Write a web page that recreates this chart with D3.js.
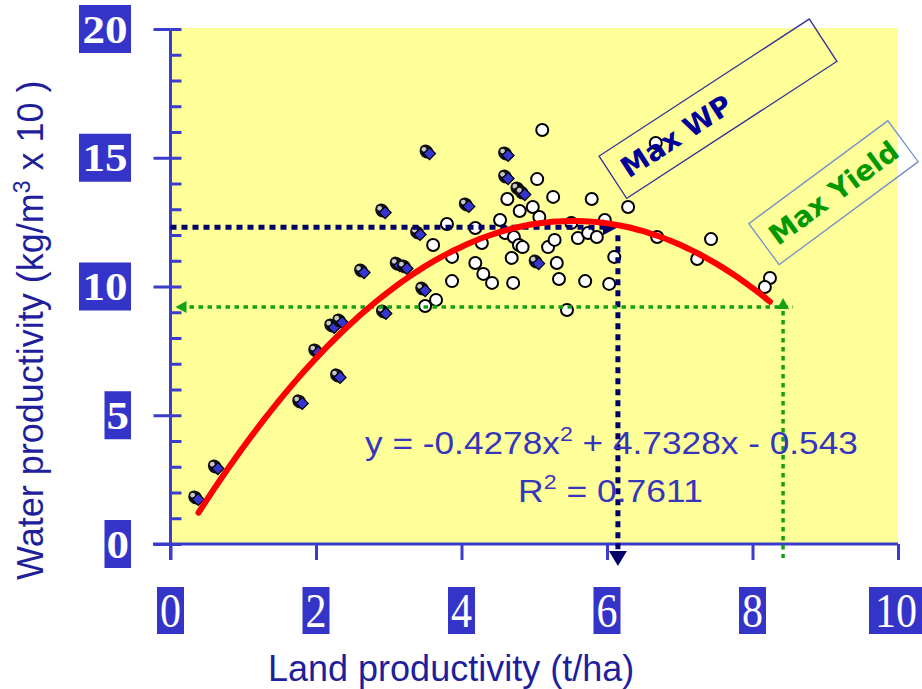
<!DOCTYPE html>
<html><head><meta charset="utf-8">
<script src="https://cdn.jsdelivr.net/npm/d3@7"></script>
<style>html,body{margin:0;padding:0;background:#fff;} svg{display:block;}</style>
</head><body>
<svg id="chart" width="922" height="689"></svg>
<script>
// Land productivity (t/ha) against water productivity (kg/m3 x 10)
const xTicks = [0, 2, 4, 6, 8, 10];
const yTicks = [0, 5, 10, 15, 20];
const yMinorTicks = d3.range(0, 21, 1);

// Fields shown as blue diamonds
const diamondX = [0.36, 0.63, 1.79, 2.01, 2.23, 2.34, 2.31, 2.64, 2.93, 2.94, 3.13, 3.23, 3.41, 3.48, 3.54, 4.08, 4.62, 4.62, 4.79, 4.85, 5.04];
const diamondY = [1.75, 2.95, 5.48, 7.46, 8.43, 8.62, 6.49, 10.56, 12.89, 8.97, 10.83, 10.72, 12.04, 9.86, 15.18, 13.13, 15.11, 14.21, 13.75, 13.59, 10.91];

// Fields shown as open circles
const circleX = [5.11, 6.67, 5.04, 5.26, 4.63, 5.79, 6.29, 4.80, 4.98, 5.07, 4.53, 3.80, 4.19, 5.51, 5.97, 4.60, 4.72, 4.28, 3.61, 4.79, 4.84, 5.19, 5.28, 5.60, 5.74, 5.86, 6.69, 7.43, 3.87, 4.69, 4.19, 5.31, 6.10, 7.24, 4.30, 4.42, 3.87, 4.71, 5.34, 5.70, 6.03, 3.65, 3.50, 5.45, 8.24, 8.17];
const circleY = [16.08, 15.57, 14.17, 13.48, 13.40, 13.40, 13.09, 12.93, 13.09, 12.70, 12.58, 12.43, 12.27, 12.47, 12.58, 12.08, 11.92, 11.69, 11.61, 11.61, 11.53, 11.53, 11.81, 11.88, 12.08, 11.92, 11.92, 11.84, 11.15, 11.11, 10.91, 10.91, 11.15, 11.07, 10.49, 10.14, 10.21, 10.14, 10.29, 10.21, 10.10, 9.48, 9.24, 9.09, 10.33, 9.98];

// Quadratic trend: y = a x^2 + b x + c
const fitCoef = [-0.4278, 4.7328, -0.543];
const fitR2 = 0.7611;
const fitRange = [0.385, 8.24];

// Reference readings (land productivity, water productivity)
const maxWP = [6.15, 12.3];
const maxYield = [8.42, 9.2];

const svg = d3.select("#chart");
const x = d3.scaleLinear().domain([0, 10]).range([170.5, 898]);
const y = d3.scaleLinear().domain([0, 20]).range([544, 29]);

const AXIS = "#3b3bcc";
const LABEL_BOX = "#3434c8";
const TITLE = "#1f1f9c";
const NAVY = "#00006a";
const GREEN = "#16a016";

// plot area
svg.append("rect")
  .attr("x", 172).attr("y", 28)
  .attr("width", x(10) - 172).attr("height", 543 - 28)
  .attr("fill", "#ffff99");

// stretch a text element horizontally to a given width, keeping its left edge
function fitWidth(sel, width) {
  const bb = sel.node().getBBox();
  const s = width / bb.width;
  sel.attr("transform", `translate(${bb.x},0) scale(${s},1) translate(${-bb.x},0)`);
}

// ---- y axis ----
const gy = svg.append("g").attr("transform", `translate(${x(0)},0)`);
gy.call(d3.axisLeft(y).tickValues(yTicks).tickSize(17).tickSizeOuter(0).tickFormat(""));
gy.append("g").call(d3.axisRight(y).tickValues(yMinorTicks).tickSize(11).tickSizeOuter(0).tickFormat(""));
gy.selectAll(".domain").remove();
gy.append("line").attr("x1", 0).attr("x2", 0).attr("y1", y(20)).attr("y2", 560);
gy.selectAll("line").attr("stroke", AXIS).attr("stroke-width", 3);

// ---- x axis ----
const gx = svg.append("g").attr("transform", `translate(0,${y(0)})`);
gx.call(d3.axisBottom(x).tickValues(xTicks).tickSize(16).tickSizeOuter(0).tickFormat(""));
gx.selectAll(".domain").remove();
gx.append("line").attr("x1", 153).attr("x2", x(10)).attr("y1", 0).attr("y2", 0);
gx.selectAll("line").attr("stroke", AXIS).attr("stroke-width", 3);

// y tick labels: bold white numerals on blue boxes
const yLab = svg.append("g").selectAll("g").data(yTicks).join("g")
  .attr("transform", d => `translate(131,${y(d)})`);
yLab.append("rect")
  .attr("x", d => -String(d).length * 25.5 - 1)
  .attr("y", -24).attr("height", 48)
  .attr("width", d => String(d).length * 25.5 + 1)
  .attr("fill", LABEL_BOX);
yLab.append("text")
  .attr("x", d => -(String(d).length * 25.5 + 1) / 2)
  .attr("y", 13.5)
  .attr("text-anchor", "middle")
  .attr("font-family", "'Liberation Serif', 'Times New Roman', serif")
  .attr("font-weight", "bold").attr("font-size", 40).attr("fill", "#fff")
  .attr("textLength", d => String(d).length * 22.5)
  .attr("lengthAdjust", "spacingAndGlyphs")
  .text(d => d);

// x tick labels: white numerals on blue boxes
const xLab = svg.append("g").selectAll("g").data(xTicks).join("g")
  .attr("transform", d => `translate(${Math.min(x(d), 896)},0)`);
xLab.append("rect")
  .attr("x", d => -String(d).length * 13.5)
  .attr("width", d => String(d).length * 27)
  .attr("y", 587).attr("height", 47)
  .attr("fill", LABEL_BOX);
xLab.append("text")
  .attr("y", 627)
  .attr("text-anchor", "middle")
  .attr("font-family", "'Liberation Serif', 'Times New Roman', serif")
  .attr("font-size", 48).attr("fill", "#fff")
  .attr("textLength", d => String(d).length * 21)
  .attr("lengthAdjust", "spacingAndGlyphs")
  .text(d => d);

// axis titles
svg.append("text")
  .attr("x", 268).attr("y", 681)
  .attr("font-family", "'Liberation Sans', Arial, sans-serif")
  .attr("font-size", 36).attr("fill", TITLE)
  .text("Land productivity (t/ha)");

const yTitle = svg.append("text")
  .attr("transform", "translate(43,580) rotate(-90)")
  .attr("font-family", "'Liberation Sans', Arial, sans-serif")
  .attr("font-size", 36).attr("fill", TITLE);
yTitle.append("tspan").text("Water productivity (kg/m");
yTitle.append("tspan").attr("font-size", 23).attr("dy", -13).text("3");
yTitle.append("tspan").attr("dy", 13).text(" x 10 )");

// ---- data points ----
const circles = circleX.map((v, i) => ({ x: v, y: circleY[i] }));
const diamonds = diamondX.map((v, i) => ({ x: v, y: diamondY[i] }));

svg.append("g").selectAll("circle").data(circles).join("circle")
  .attr("cx", d => x(d.x)).attr("cy", d => y(d.y)).attr("r", 6)
  .attr("fill", "#fff").attr("stroke", "#000").attr("stroke-width", 2);

const dm = svg.append("g").selectAll("g").data(diamonds).join("g")
  .attr("transform", d => `translate(${x(d.x)},${y(d.y)})`);
dm.append("ellipse").attr("cx", -1.5).attr("cy", -1.5).attr("rx", 7.5).attr("ry", 6.5)
  .attr("transform", "rotate(45,-1.5,-1.5)").attr("fill", "#111");
dm.append("circle").attr("cx", -4).attr("cy", -3.8).attr("r", 2.4).attr("fill", "#c8c8c8");
dm.append("path").attr("d", "M1.5,-5.5 L7.5,0.5 L1.5,6.5 L-4.5,0.5 Z")
  .attr("fill", "#3535d2").attr("stroke", "#000").attr("stroke-width", 1.2);

// ---- reference guides ----
const guides = svg.append("g").attr("fill", "none");
// max water productivity
guides.append("line")
  .attr("x1", x(0)).attr("x2", x(maxWP[0]) - 12)
  .attr("y1", y(maxWP[1])).attr("y2", y(maxWP[1]))
  .attr("stroke", NAVY).attr("stroke-width", 5).attr("stroke-dasharray", "6,5");
guides.append("line")
  .attr("x1", x(maxWP[0])).attr("x2", x(maxWP[0]))
  .attr("y1", y(maxWP[1]) + 8).attr("y2", 550)
  .attr("stroke", NAVY).attr("stroke-width", 5).attr("stroke-dasharray", "6,5");
svg.append("path")
  .attr("d", `M${x(maxWP[0])},${y(maxWP[1])} l-15,-8 l0,16 Z`)
  .attr("fill", NAVY);
svg.append("path")
  .attr("d", `M${x(maxWP[0])},566 l-9,-15 l18,0 Z`)
  .attr("fill", NAVY);

// max yield
guides.append("line")
  .attr("x1", x(0) + 10).attr("x2", x(maxYield[0]) + 10)
  .attr("y1", y(maxYield[1])).attr("y2", y(maxYield[1]))
  .attr("stroke", GREEN).attr("stroke-width", 3.5).attr("stroke-dasharray", "4.5,4.5");
guides.append("line")
  .attr("x1", x(maxYield[0])).attr("x2", x(maxYield[0]))
  .attr("y1", y(maxYield[1]) + 4).attr("y2", 558)
  .attr("stroke", GREEN).attr("stroke-width", 3.5).attr("stroke-dasharray", "4.5,4.5");
svg.append("path")
  .attr("d", `M${x(0) + 5},${y(maxYield[1])} l11,-6 l0,12 Z`)
  .attr("fill", GREEN);
svg.append("path")
  .attr("d", `M${x(maxYield[0])},${y(maxYield[1]) - 9} l-6,11 l12,0 Z`)
  .attr("fill", GREEN);

// ---- fitted curve ----
const fit = v => fitCoef[0] * v * v + fitCoef[1] * v + fitCoef[2];
const fitPts = d3.range(0, 81).map(i => fitRange[0] + (fitRange[1] - fitRange[0]) * i / 80);
svg.append("path")
  .datum(fitPts)
  .attr("d", d3.line().x(v => x(v)).y(v => y(fit(v))).curve(d3.curveMonotoneX))
  .attr("fill", "none").attr("stroke", "#ff0000").attr("stroke-width", 6)
  .attr("stroke-linecap", "round");

// equation and R-squared
const EQ = "#3636bb";
const eq = svg.append("text")
  .attr("x", 365).attr("y", 454)
  .attr("font-family", "'Liberation Sans', Arial, sans-serif")
  .attr("font-size", 32).attr("fill", EQ);
eq.append("tspan").text(`y = ${fitCoef[0]}x`);
eq.append("tspan").attr("font-size", 21).attr("dy", -13).text("2");
eq.append("tspan").attr("dy", 13).text(` + ${fitCoef[1]}x - ${Math.abs(fitCoef[2])}`);
fitWidth(eq, 493);

const r2 = svg.append("text")
  .attr("x", 518).attr("y", 502)
  .attr("font-family", "'Liberation Sans', Arial, sans-serif")
  .attr("font-size", 32).attr("fill", EQ);
r2.append("tspan").text("R");
r2.append("tspan").attr("font-size", 21).attr("dy", -13).text("2");
r2.append("tspan").attr("dy", 13).text(` = ${fitR2}`);
fitWidth(r2, 185);

// ---- rotated callouts ----
function callout(cx, cy, angle, w, h, stroke, label, color, textShift, size) {
  const g = svg.append("g").attr("transform", `translate(${cx},${cy}) rotate(${angle})`);
  g.append("rect").attr("x", -w / 2).attr("y", -h / 2).attr("width", w).attr("height", h)
    .attr("fill", "none").attr("stroke", stroke).attr("stroke-width", 1.3);
  g.append("text").attr("x", textShift).attr("y", size * 0.36)
    .attr("text-anchor", "middle")
    .attr("font-family", "'DejaVu Sans', Verdana, sans-serif")
    .attr("font-weight", "bold").attr("font-size", size).attr("fill", color)
    .text(label);
}
callout(718, 108.7, -33.1, 251, 50.5, "#33339a", "Max WP", "#000099", -50, 28);
callout(833.5, 192.7, -36.5, 173, 51, "#7090cc", "Max Yield", "#009900", 0, 28);
</script>
</body></html>
